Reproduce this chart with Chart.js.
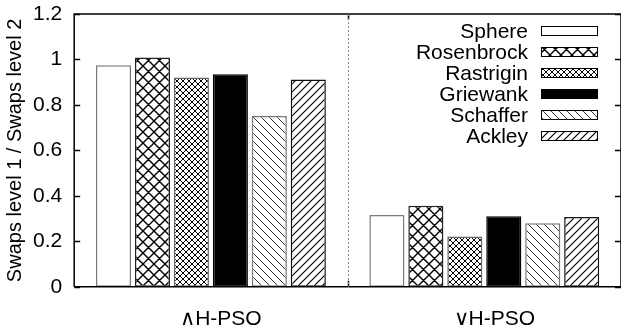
<!DOCTYPE html>
<html lang="en">
<head>
<meta charset="UTF-8" />
<script src="https://cdn.jsdelivr.net/npm/chart.js@4.4.1/dist/chart.umd.min.js"></script>
<style>
  html, body { margin: 0; padding: 0; background: #fff; }
</style>
</head>
<body>
<canvas id="c" width="621" height="334"></canvas>
<script>
// swap ratio per benchmark function, for the two hierarchy variants
const groups = ['\u2227H-PSO', '\u2228H-PSO']
const functionNames = ['Sphere', 'Rosenbrock', 'Rastrigin', 'Griewank', 'Schaffer', 'Ackley']
const sphere = [0.975, 0.316]
const rosenbrock = [1.009, 0.356]
const rastrigin = [0.921, 0.221]
const griewank = [0.935, 0.310]
const schaffer = [0.751, 0.279]
const ackley = [0.912, 0.307]
const yTicks = [0, 0.2, 0.4, 0.6, 0.8, 1, 1.2]

const FONT = '"Liberation Sans", Arial, Helvetica, sans-serif'

// small repeating tiles for the gnuplot-like fill patterns
function hatch(dirs, step, lw, color) {
	const c = document.createElement('canvas')
	c.width = step
	c.height = step
	const g = c.getContext('2d')
	g.fillStyle = '#fff'
	g.fillRect(0, 0, step, step)
	g.strokeStyle = color
	g.lineWidth = lw
	g.beginPath()
	const q = step / 4
	if (dirs.includes('/')) {
		g.moveTo(0, step); g.lineTo(step, 0)
		g.moveTo(-q, q); g.lineTo(q, -q)
		g.moveTo(step - q, step + q); g.lineTo(step + q, step - q)
	}
	if (dirs.includes('\\')) {
		g.moveTo(0, 0); g.lineTo(step, step)
		g.moveTo(-q, step - q); g.lineTo(q, step + q)
		g.moveTo(step - q, -q); g.lineTo(step + q, q)
	}
	g.stroke()
	return g.createPattern(c, 'repeat')
}

const ctx = document.getElementById('c').getContext('2d')

const fills = [
	'#fff',
	hatch('/\\', 11, 1.4, '#000'),
	hatch('/\\', 6, 1, '#000'),
	'#000',
	hatch('\\', 8, 1, '#333'),
	hatch('/', 8, 1.2, '#000'),
]
const borders = ['#7a7a7a', '#222', '#666', '#000', '#777', '#111']
const values = [sphere, rosenbrock, rastrigin, griewank, schaffer, ackley]

const datasets = functionNames.map((name, i) => ({
	label: name,
	data: values[i],
	backgroundColor: fills[i],
	borderColor: borders[i],
	borderWidth: 1.5,
	borderSkipped: false,
	categoryPercentage: 0.855,
	barPercentage: 0.9,
}))

// frame, inward ticks, group separator
const framePlugin = {
	id: 'frame',
	afterDatasetsDraw(chart) {
		const { ctx, chartArea: a, scales } = chart
		const y = scales.y
		const x = scales.x
		ctx.save()
		ctx.strokeStyle = '#000'
		ctx.lineWidth = 1.5
		ctx.beginPath()
		ctx.moveTo(a.left, a.bottom); ctx.lineTo(a.left, a.top); ctx.lineTo(a.right, a.top)
		ctx.moveTo(a.left, a.bottom); ctx.lineTo(a.right, a.bottom)
		ctx.moveTo(a.right, a.top); ctx.lineTo(a.right, a.bottom)
		yTicks.forEach(v => {
			const py = Math.round(y.getPixelForValue(v)) + 0.5
			ctx.moveTo(a.left, py); ctx.lineTo(a.left + 6, py)
			ctx.moveTo(a.right, py); ctx.lineTo(a.right - 6, py)
		})
		const sx = Math.round((x.getPixelForValue(0) + x.getPixelForValue(1)) / 2) + 0.5
		ctx.moveTo(sx, a.top); ctx.lineTo(sx, a.top + 6)
		ctx.moveTo(sx, a.bottom); ctx.lineTo(sx, a.bottom - 6)
		ctx.stroke()
		ctx.strokeStyle = '#888'
		ctx.lineWidth = 1
		ctx.setLineDash([2, 2])
		ctx.beginPath()
		ctx.moveTo(sx, a.top); ctx.lineTo(sx, a.bottom)
		ctx.stroke()
		ctx.restore()
	},
}

// key with label on the left of each swatch
const keyPlugin = {
	id: 'key',
	afterDatasetsDraw(chart) {
		const { ctx } = chart
		ctx.save()
		ctx.font = '21px ' + FONT
		ctx.textAlign = 'right'
		ctx.textBaseline = 'middle'
		chart.data.datasets.forEach((ds, i) => {
			const cy = 31 + i * 21
			ctx.fillStyle = '#000'
			ctx.fillText(ds.label, 528, cy + 1)
			ctx.fillStyle = ds.backgroundColor
			ctx.fillRect(541, cy - 5, 57, 10)
			ctx.strokeStyle = '#000'
			ctx.lineWidth = 1
			ctx.strokeRect(541.5, cy - 4.5, 56, 9)
		})
		ctx.restore()
	},
}

new Chart(ctx, {
	type: 'bar',
	data: { labels: groups, datasets },
	options: {
		responsive: false,
		animation: false,
		devicePixelRatio: 1,
		layout: { padding: { top: 14, right: -13, bottom: -18, left: 3 } },
		plugins: {
			legend: { display: false },
			tooltip: { enabled: false },
		},
		scales: {
			x: {
				grid: { display: false, drawTicks: false },
				border: { display: false },
				ticks: {
					color: '#000',
					font: { family: FONT, size: 21 },
					padding: 20,
					labelOffset: 10,
					maxRotation: 0,
				},
			},
			y: {
				min: 0,
				max: 1.2,
				afterBuildTicks(scale) {
					scale.ticks = yTicks.map(v => ({ value: v }))
				},
				afterFit(scale) {
					scale.paddingTop = 0
				},
				grid: { display: false, drawTicks: false },
				border: { display: false },
				ticks: {
					color: '#000',
					font: { family: FONT, size: 21 },
					padding: 12,
					callback: v => String(v),
				},
				title: {
					display: true,
					text: 'Swaps level 1 / Swaps level 2',
					color: '#000',
					font: { family: FONT, size: 20 },
					padding: { top: 0, bottom: -6 },
				},
			},
		},
	},
	plugins: [framePlugin, keyPlugin],
})
</script>
</body>
</html>
